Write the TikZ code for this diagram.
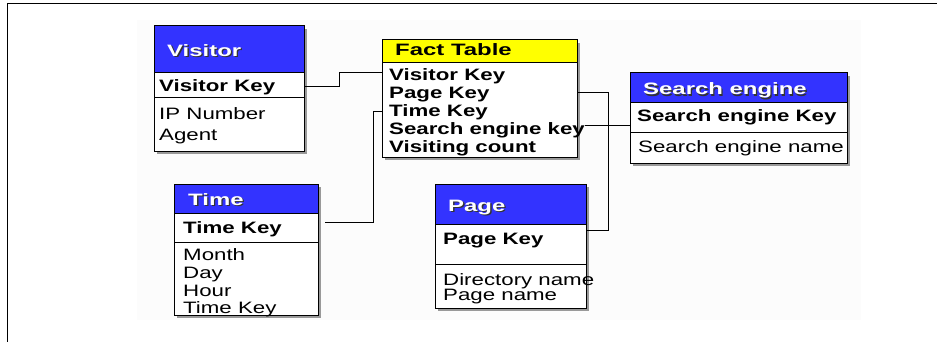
\documentclass[tikz,border=0pt]{standalone}
\usepackage{fontspec}
\setmainfont{Liberation Sans}
\usetikzlibrary{calc}
\definecolor{hdrblue}{RGB}{51,51,255}
\definecolor{hdryellow}{RGB}{255,255,0}
\definecolor{faintbg}{RGB}{252,252,252}
\newcommand\sxr[1]{\scalebox{1.35}[1]{#1}}
\newcommand\sxt[1]{\scalebox{1.45}[1]{#1}}
\newcommand\wtitle[1]{\rlap{\hspace{1.3pt}\raisebox{-1.3pt}{\color{black!80}\sxt{#1}}}{\color{white}\sxt{#1}}}
\begin{document}
\begin{tikzpicture}[x=1pt,y=-1pt,
  tbl/.style={rectangle, draw=none, fill=white, inner sep=0pt, anchor=north west},
  shad/.style={fill=black!40},
  edge/.style={draw=black, line width=1pt},
  link/.style={draw=black, line width=0.9pt},
  rowb/.style={anchor=base west, inner sep=0pt, font=\fontsize{16.5}{18}\selectfont\bfseries},
  rowr/.style={anchor=base west, inner sep=0pt, font=\fontsize{16.5}{18}\selectfont},
  ttl/.style={anchor=base west, inner sep=0pt, font=\fontsize{16.5}{18}\selectfont\bfseries}]
\useasboundingbox (0,0) rectangle (937,342);
\fill[white] (0,0) rectangle (937,342);
\fill[faintbg] (137,20) rectangle (861,320);
\draw[line width=1.3pt] (7.5,342) -- (7.5,3.5) -- (937,3.5);

% ---------- Visitor ----------
\fill[shad] (157,29) rectangle (307,154);
\node[tbl, minimum width=150pt, minimum height=125pt] (visitor) at (154,26) {};
\fill[hdrblue] (154,26) rectangle (304,73);
\draw[edge] (154,73) -- (304,73);
\draw[edge] (154,98) -- (304,98);
\draw[edge] (visitor.north west) rectangle (visitor.south east);
\node[ttl] (vt) at (167,56.5) {\wtitle{Visitor}};
\node[rowb] (vk) at (159,91.5) {\sxr{Visitor Key}};
\node[rowr] (vip) at (159,120) {\sxr{IP Number}};
\node[rowr] (vag) at (159,140.5) {\sxr{Agent}};

% ---------- Fact Table ----------
\fill[shad] (385,43) rectangle (580,160);
\node[tbl, minimum width=195pt, minimum height=117pt] (fact) at (382,40) {};
\fill[hdryellow] (382,40) rectangle (577,63);
\draw[edge] (382,63) -- (577,63);
\draw[edge] (fact.north west) rectangle (fact.south east);
\node[ttl] (ft) at (395,56) {\sxt{Fact Table}};
\node[rowb] (fvk) at (389,80.5) {\sxr{Visitor Key}};
\node[rowb] (fpk) at (389,98.5) {\sxr{Page Key}};
\node[rowb] (ftk) at (389,116.5) {\sxr{Time Key}};
\node[rowb] (fsk) at (389,134.5) {\sxr{Search engine key}};
\node[rowb] (fvc) at (389,152.5) {\sxr{Visiting count}};

% ---------- Search engine ----------
\fill[shad] (633,76) rectangle (850,166);
\node[tbl, minimum width=217pt, minimum height=90pt] (search) at (630,73) {};
\fill[hdrblue] (630,73) rectangle (847,103);
\draw[edge] (630,103) -- (847,103);
\draw[edge] (630,133) -- (847,133);
\draw[edge] (search.north west) rectangle (search.south east);
\node[ttl] (st) at (643,95) {\wtitle{Search engine}};
\node[rowb] (sk) at (637,121.5) {\sxr{Search engine Key}};
\node[rowr] (sn) at (638,152.5) {\sxr{Search engine name}};

% ---------- Time ----------
\fill[shad] (177,187) rectangle (321,318);
\node[tbl, minimum width=144pt, minimum height=131pt] (time) at (174,184) {};
\fill[hdrblue] (174,184) rectangle (318,213);
\draw[edge] (174,213) -- (318,213);
\draw[edge] (174,242) -- (318,242);
\draw[edge] (time.north west) rectangle (time.south east);
\node[ttl] (tt) at (188,205) {\wtitle{Time}};
\node[rowb] (tk) at (183,233.5) {\sxr{Time Key}};
\node[rowr] (tm) at (183,260.5) {\sxr{Month}};
\node[rowr] (td) at (183,278.5) {\sxr{Day}};
\node[rowr] (th) at (183,296) {\sxr{Hour}};
\node[rowr] (tk2) at (183,313.5) {\sxr{Time Key}};

% ---------- Page ----------
\fill[shad] (438,187) rectangle (589,311);
\node[tbl, minimum width=151pt, minimum height=124pt] (page) at (435,184) {};
\fill[hdrblue] (435,184) rectangle (586,224);
\draw[edge] (435,224) -- (586,224);
\draw[edge] (435,264) -- (586,264);
\draw[edge] (page.north west) rectangle (page.south east);
\node[ttl] (pt) at (448,211.5) {\wtitle{Page}};
\node[rowb] (pk) at (443,244) {\sxr{Page Key}};
\node[rowr] (pd) at (443,285) {\sxr{Directory name}};
\node[rowr] (pn) at (443,300.5) {\sxr{Page name}};

% ---------- connectors ----------
\draw[link] ($(visitor.east)+(0,-2.5)$) -- ++(35,0) |- ($(fact.west)+(0,-25.8)$);
\draw[link] ($(fact.west)+(0,12.5)$) -- ++(-9,0) |- ($(time.east)+(7,-27.5)$);
\draw[link] ($(fact.east)+(0,-6.5)$) -- ++(31,0) |- ($(page.east)+(0,-16)$);
\draw[link] ($(fact.east)+(8,26.5)$) -- ($(search.west)+(0,7)$);
\end{tikzpicture}
\end{document}
